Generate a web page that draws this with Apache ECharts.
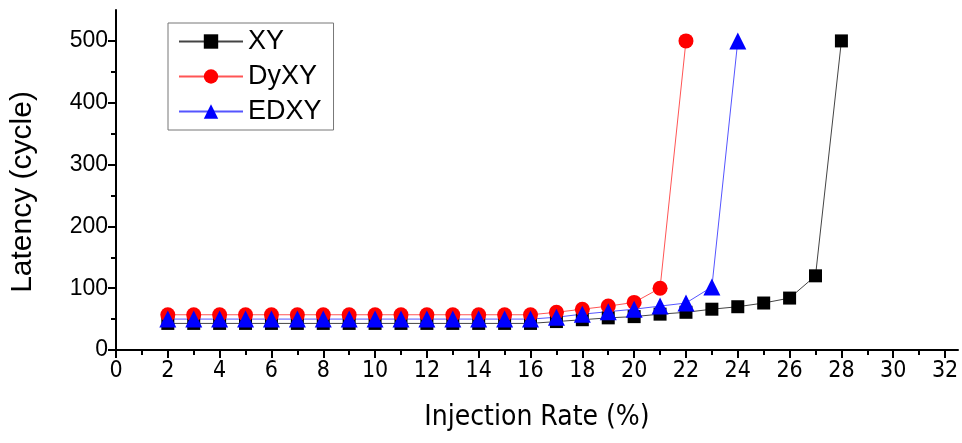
<!DOCTYPE html>
<html>
<head>
<meta charset="utf-8">
<script src="https://cdn.jsdelivr.net/npm/echarts@6/dist/echarts.min.js"></script>
<style>
html,body{margin:0;padding:0;background:#fff;}
#c{width:962px;height:443px;}
</style>
</head>
<body>
<div id="c"></div>
<script>
// ---- data ----
var rates = [2,3,4,5,6,7,8,9,10,11,12,13,14,15,16,17,18,19,20,21,22,23,24,25,26,27,28];
var xyLatency   = [43,43,43,43,43,43,43,43,43,43,43,43,43,43,43,46,49,52,54,58,61,66,70,76,84,120,500];
var dyxyLatency = [57,57,57,57,57,57,57,57,57,57,57,57,57,57,57,61,66,71,77,100,500];
var edxyLatency = [50,50,50,50,50,50,50,50,50,50,50,50,50,50,50,53,58,62,66,71,76,102,500];
var xMajorTicks = [0,2,4,6,8,10,12,14,16,18,20,22,24,26,28,30,32];
var xMinorTicks = [1,3,5,7,9,11,13,15,17,19,21,23,25,27,29,31];
var yMajorTicks = [0,100,200,300,400,500];
var yMinorTicks = [50,150,250,350,450];

function pairs(vals){ return vals.map(function(v,i){ return [rates[i], v]; }); }

var narrow = "'Liberation Sans Narrow','Arial Narrow','DejaVu Sans Condensed','Liberation Sans',Arial,sans-serif";
var sans = "'Liberation Sans',Arial,sans-serif";

var chart = echarts.init(document.getElementById('c'), null, {renderer:'canvas'});
chart.setOption({
  animation:false,
  backgroundColor:'#fff',
  grid:{left:114, right:4, top:10, bottom:93},
  legend:{
    orient:'vertical', left:168, top:23,
    borderColor:'#777', borderWidth:1,
    padding:[5,12,5,10],
    itemWidth:64, itemHeight:18, itemGap:8,
    textStyle:{fontFamily:sans, fontSize:27, color:'#000'},
    data:['XY','DyXY','EDXY']
  },
  xAxis:[{
    type:'value', min:0, max:32.5,
    splitLine:{show:false},
    axisLine:{onZero:false, lineStyle:{color:'#000', width:2}},
    axisTick:{customValues:xMajorTicks, length:8, lineStyle:{color:'#000', width:2}},
    axisLabel:{customValues:xMajorTicks, fontFamily:narrow, fontSize:23, color:'#000', margin:10},
    name:'Injection Rate (%)', nameLocation:'middle', nameGap:54,
    nameTextStyle:{fontFamily:narrow, fontSize:28, color:'#000'}
  },{
    type:'value', min:0, max:32.5, position:'bottom',
    splitLine:{show:false},
    axisLine:{show:false},
    axisTick:{customValues:xMinorTicks, length:5, lineStyle:{color:'#000', width:2}},
    axisLabel:{show:false}
  }],
  yAxis:[{
    type:'value', min:0, max:550,
    splitLine:{show:false},
    axisLine:{show:true, onZero:false, lineStyle:{color:'#000', width:2}},
    axisTick:{show:true, customValues:yMajorTicks, length:8, lineStyle:{color:'#000', width:2}},
    axisLabel:{customValues:yMajorTicks, fontFamily:sans, fontSize:23, color:'#000', margin:8},
    name:'Latency (cycle)', nameLocation:'middle', nameGap:78,
    nameTextStyle:{fontFamily:sans, fontSize:30, color:'#000', padding:[0,24,0,0]}
  },{
    type:'value', min:0, max:550, position:'left',
    splitLine:{show:false},
    axisLine:{show:false},
    axisTick:{show:true, customValues:yMinorTicks, length:5, lineStyle:{color:'#000', width:2}},
    axisLabel:{show:false}
  }],
  series:[{
    name:'XY', type:'line', data:pairs(xyLatency),
    symbol:'rect', symbolSize:13,
    itemStyle:{color:'#000'},
    lineStyle:{color:'#444', width:1}
  },{
    name:'DyXY', type:'line', data:pairs(dyxyLatency),
    symbol:'circle', symbolSize:15,
    itemStyle:{color:'#ff0000'},
    lineStyle:{color:'#ff5555', width:1}
  },{
    name:'EDXY', type:'line', data:pairs(edxyLatency),
    symbol:'triangle', symbolSize:17,
    itemStyle:{color:'#0000ff'},
    lineStyle:{color:'#5555ff', width:1}
  }]
});
</script>
</body>
</html>
